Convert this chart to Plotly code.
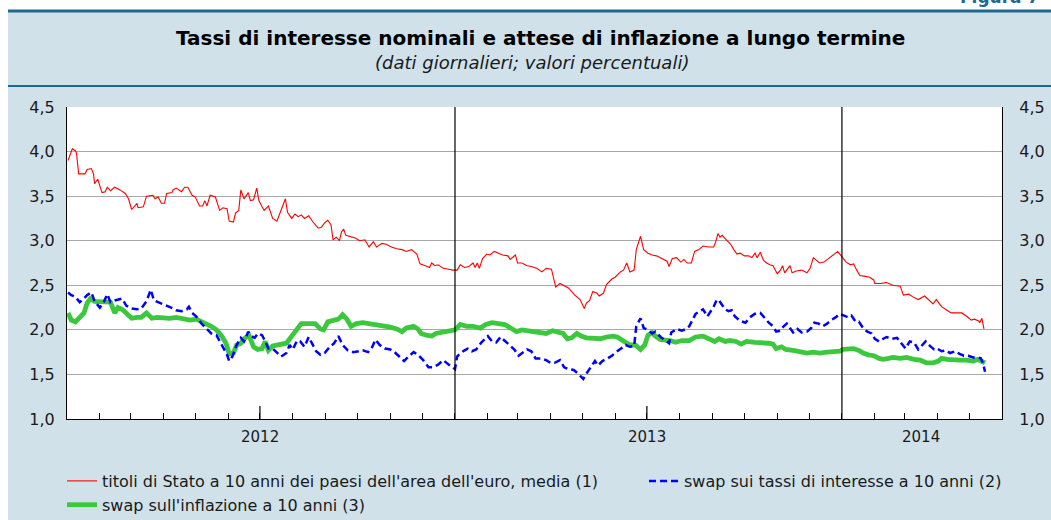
import plotly.graph_objects as go

# ---------------- data ----------------
bond_dates = ["2012-01-02","2012-01-06","2012-01-09","2012-01-10","2012-01-12","2012-01-18","2012-01-20","2012-01-24","2012-01-26","2012-01-27","2012-01-30","2012-02-03","2012-02-06","2012-02-08","2012-02-11","2012-02-15","2012-02-20","2012-02-25","2012-02-28","2012-03-02","2012-03-07","2012-03-08","2012-03-13","2012-03-16","2012-03-22","2012-03-24","2012-03-27","2012-03-30","2012-04-02","2012-04-04","2012-04-09","2012-04-10","2012-04-13","2012-04-18","2012-04-21","2012-04-24","2012-04-28","2012-05-01","2012-05-05","2012-05-08","2012-05-10","2012-05-12","2012-05-15","2012-05-20","2012-05-24","2012-05-27","2012-05-31","2012-06-02","2012-06-06","2012-06-08","2012-06-11","2012-06-13","2012-06-16","2012-06-20","2012-06-22","2012-06-25","2012-06-28","2012-06-30","2012-07-03","2012-07-05","2012-07-09","2012-07-13","2012-07-17","2012-07-21","2012-07-25","2012-07-27","2012-07-31","2012-08-03","2012-08-06","2012-08-09","2012-08-12","2012-08-16","2012-08-20","2012-08-25","2012-08-28","2012-08-31","2012-09-03","2012-09-06","2012-09-08","2012-09-11","2012-09-14","2012-09-16","2012-09-18","2012-09-20","2012-09-24","2012-09-29","2012-10-03","2012-10-08","2012-10-12","2012-10-16","2012-10-19","2012-10-24","2012-10-28","2012-11-02","2012-11-07","2012-11-12","2012-11-16","2012-11-21","2012-11-26","2012-11-29","2012-12-04","2012-12-08","2012-12-10","2012-12-13","2012-12-16","2012-12-21","2012-12-26","2012-12-30",
"2013-01-03","2013-01-06","2013-01-10","2013-01-14","2013-01-18","2013-01-20","2013-01-22","2013-01-24","2013-01-27","2013-01-31","2013-02-03","2013-02-07","2013-02-11","2013-02-15","2013-02-20","2013-02-22","2013-02-27","2013-03-01","2013-03-05","2013-03-10","2013-03-14","2013-03-19","2013-03-24","2013-03-28","2013-04-02","2013-04-04","2013-04-06","2013-04-10","2013-04-13","2013-04-18","2013-04-24","2013-04-29","2013-05-03","2013-05-05","2013-05-08","2013-05-11","2013-05-15","2013-05-17","2013-05-21","2013-05-24","2013-05-29","2013-06-01","2013-06-06","2013-06-09","2013-06-12","2013-06-15","2013-06-19","2013-06-21","2013-06-25","2013-06-28","2013-07-02","2013-07-06","2013-07-10","2013-07-15","2013-07-20","2013-07-22","2013-07-25","2013-07-29","2013-08-02","2013-08-05","2013-08-08","2013-08-12","2013-08-15","2013-08-19","2013-08-23","2013-08-28","2013-09-02","2013-09-04","2013-09-06","2013-09-08","2013-09-10","2013-09-14","2013-09-18","2013-09-21","2013-09-24","2013-09-27","2013-10-01","2013-10-05","2013-10-08","2013-10-11","2013-10-13","2013-10-16","2013-10-19","2013-10-22","2013-10-25","2013-10-28","2013-11-01","2013-11-04","2013-11-06","2013-11-08","2013-11-13","2013-11-15","2013-11-19","2013-11-24","2013-11-29","2013-12-02","2013-12-05","2013-12-08","2013-12-11","2013-12-15","2013-12-19","2013-12-23","2013-12-28","2013-12-30",
"2014-01-02","2014-01-05","2014-01-09","2014-01-12","2014-01-15","2014-01-18","2014-01-23","2014-01-27","2014-01-31","2014-02-01","2014-02-06","2014-02-12","2014-02-18","2014-02-25","2014-02-28","2014-03-05","2014-03-09","2014-03-14","2014-03-20","2014-03-25","2014-03-28","2014-03-31","2014-04-05","2014-04-10","2014-04-14","2014-04-19","2014-04-24","2014-04-29","2014-05-03","2014-05-06","2014-05-10","2014-05-11","2014-05-13","2014-05-15"]
bond_values = [3.90,4.03,4.01,3.98,3.75,3.75,3.80,3.81,3.75,3.64,3.69,3.54,3.55,3.60,3.56,3.60,3.57,3.53,3.47,3.35,3.42,3.37,3.38,3.50,3.51,3.47,3.49,3.42,3.42,3.53,3.54,3.57,3.59,3.55,3.60,3.60,3.51,3.49,3.39,3.39,3.45,3.39,3.51,3.49,3.34,3.37,3.36,3.22,3.21,3.31,3.34,3.57,3.47,3.54,3.45,3.46,3.59,3.45,3.38,3.34,3.39,3.25,3.22,3.34,3.47,3.32,3.25,3.30,3.27,3.29,3.25,3.28,3.21,3.14,3.15,3.20,3.23,3.18,3.01,3.04,3.00,3.10,3.13,3.06,3.05,3.03,3.00,3.01,2.93,2.99,2.93,2.97,2.96,2.93,2.91,2.90,2.88,2.90,2.85,2.74,2.72,2.70,2.75,2.72,2.73,2.69,2.68,2.67,
2.67,2.73,2.70,2.71,2.75,2.70,2.75,2.69,2.80,2.85,2.84,2.88,2.86,2.84,2.83,2.79,2.84,2.75,2.75,2.72,2.71,2.69,2.65,2.69,2.68,2.56,2.48,2.52,2.50,2.47,2.39,2.34,2.24,2.30,2.33,2.43,2.41,2.38,2.41,2.51,2.57,2.59,2.65,2.67,2.75,2.65,2.67,2.90,3.05,2.90,2.86,2.84,2.83,2.80,2.77,2.71,2.80,2.81,2.76,2.79,2.75,2.75,2.88,2.90,2.94,2.93,2.93,2.99,3.08,3.04,3.06,3.01,2.96,2.90,2.85,2.86,2.83,2.83,2.81,2.86,2.81,2.87,2.78,2.75,2.73,2.72,2.63,2.67,2.72,2.64,2.72,2.64,2.66,2.67,2.64,2.69,2.81,2.78,2.75,2.76,2.80,2.83,2.88,2.85,
2.80,2.76,2.73,2.74,2.67,2.61,2.60,2.59,2.56,2.52,2.52,2.53,2.50,2.49,2.39,2.40,2.37,2.34,2.38,2.32,2.29,2.34,2.26,2.22,2.19,2.19,2.19,2.15,2.11,2.12,2.10,2.08,2.13,2.01]

swap_rate_dates = ["2012-01-02","2012-01-05","2012-01-09","2012-01-13","2012-01-16","2012-01-20","2012-01-24","2012-01-27","2012-02-01","2012-02-05","2012-02-08","2012-02-11","2012-02-15","2012-02-18","2012-02-22","2012-02-26","2012-03-02","2012-03-07","2012-03-11","2012-03-16","2012-03-20","2012-03-23","2012-03-27","2012-04-01","2012-04-05","2012-04-10","2012-04-13","2012-04-18","2012-04-23","2012-04-25","2012-04-28","2012-05-02","2012-05-07","2012-05-12","2012-05-16","2012-05-21","2012-05-24","2012-05-28","2012-05-31","2012-06-02","2012-06-05","2012-06-09","2012-06-13","2012-06-16","2012-06-20","2012-06-23","2012-06-26","2012-06-29","2012-07-03","2012-07-06","2012-07-09","2012-07-13","2012-07-17","2012-07-21","2012-07-26","2012-07-29","2012-08-01","2012-08-05","2012-08-08","2012-08-12","2012-08-16","2012-08-19","2012-08-23","2012-08-27","2012-08-31","2012-09-05","2012-09-09","2012-09-13","2012-09-17","2012-09-22","2012-09-27","2012-10-02","2012-10-06","2012-10-11","2012-10-15","2012-10-18","2012-10-22","2012-10-27","2012-11-01","2012-11-05","2012-11-10","2012-11-14","2012-11-18","2012-11-23","2012-11-27","2012-12-02","2012-12-07","2012-12-11","2012-12-16","2012-12-21","2012-12-26","2012-12-30",
"2013-01-01","2013-01-03","2013-01-06","2013-01-10","2013-01-13","2013-01-17","2013-01-21","2013-01-26","2013-01-30","2013-02-01","2013-02-05","2013-02-09","2013-02-13","2013-02-17","2013-02-22","2013-02-26","2013-03-02","2013-03-06","2013-03-10","2013-03-14","2013-03-18","2013-03-23","2013-03-28","2013-04-01","2013-04-05","2013-04-10","2013-04-14","2013-04-18","2013-04-23","2013-04-27","2013-05-02","2013-05-05","2013-05-09","2013-05-13","2013-05-16","2013-05-20","2013-05-25","2013-05-29","2013-06-02","2013-06-07","2013-06-11","2013-06-15","2013-06-19","2013-06-21","2013-06-25","2013-06-28","2013-07-02","2013-07-06","2013-07-09","2013-07-14","2013-07-19","2013-07-22","2013-07-24","2013-07-29","2013-08-03","2013-08-07","2013-08-10","2013-08-13","2013-08-16","2013-08-20","2013-08-23","2013-08-27","2013-08-30","2013-09-02","2013-09-05","2013-09-07","2013-09-10","2013-09-13","2013-09-16","2013-09-19","2013-09-22","2013-09-27","2013-10-02","2013-10-06","2013-10-11","2013-10-16","2013-10-19","2013-10-24","2013-10-28","2013-10-31","2013-11-04","2013-11-07","2013-11-10","2013-11-13","2013-11-16","2013-11-20","2013-11-24","2013-11-29","2013-12-03","2013-12-06","2013-12-10","2013-12-14","2013-12-18","2013-12-22","2013-12-26","2013-12-30",
"2014-01-03","2014-01-07","2014-01-10","2014-01-14","2014-01-17","2014-01-21","2014-01-25","2014-01-29","2014-02-01","2014-02-05","2014-02-09","2014-02-12","2014-02-17","2014-02-22","2014-02-26","2014-03-02","2014-03-06","2014-03-10","2014-03-14","2014-03-18","2014-03-21","2014-03-25","2014-03-29","2014-04-01","2014-04-05","2014-04-09","2014-04-13","2014-04-18","2014-04-22","2014-04-26","2014-04-30","2014-05-05","2014-05-09","2014-05-12","2014-05-14","2014-05-16"]
swap_rate_values = [2.42,2.39,2.37,2.31,2.34,2.39,2.42,2.32,2.25,2.32,2.40,2.31,2.33,2.34,2.35,2.27,2.24,2.23,2.24,2.32,2.45,2.33,2.31,2.29,2.27,2.24,2.22,2.21,2.23,2.26,2.19,2.15,2.07,2.01,1.96,1.94,1.87,1.79,1.72,1.65,1.70,1.83,1.91,1.87,1.98,1.93,1.91,1.96,1.94,1.87,1.79,1.79,1.75,1.70,1.74,1.83,1.78,1.88,1.87,1.81,1.92,1.85,1.76,1.72,1.74,1.81,1.85,1.93,1.83,1.77,1.75,1.76,1.77,1.75,1.81,1.89,1.83,1.79,1.78,1.75,1.69,1.65,1.70,1.75,1.72,1.66,1.58,1.58,1.61,1.66,1.61,1.57,
1.56,1.70,1.74,1.77,1.79,1.76,1.78,1.86,1.91,1.93,1.87,1.86,1.92,1.88,1.83,1.78,1.71,1.74,1.78,1.76,1.68,1.68,1.66,1.63,1.63,1.66,1.58,1.56,1.55,1.51,1.45,1.51,1.58,1.65,1.60,1.65,1.68,1.71,1.75,1.79,1.83,1.81,1.82,2.04,2.13,2.02,2.00,1.96,1.98,1.92,1.88,1.85,1.97,2.01,1.99,2.01,2.04,2.12,2.18,2.21,2.23,2.15,2.21,2.26,2.34,2.33,2.28,2.23,2.21,2.22,2.15,2.10,2.08,2.14,2.18,2.19,2.15,2.08,2.04,1.98,1.99,2.04,2.07,2.02,1.97,2.01,1.97,1.98,2.02,2.08,2.07,2.04,2.07,2.11,2.14,2.18,
2.16,2.14,2.16,2.09,2.09,2.02,1.98,1.96,1.90,1.87,1.90,1.92,1.90,1.91,1.85,1.79,1.87,1.86,1.78,1.83,1.87,1.82,1.78,1.79,1.76,1.77,1.74,1.76,1.73,1.71,1.71,1.69,1.69,1.68,1.63,1.53]

infl_swap_dates = ["2012-01-02","2012-01-05","2012-01-09","2012-01-13","2012-01-17","2012-01-20","2012-01-23","2012-01-27","2012-02-01","2012-02-06","2012-02-11","2012-02-15","2012-02-18","2012-02-22","2012-02-26","2012-03-02","2012-03-07","2012-03-11","2012-03-16","2012-03-21","2012-03-26","2012-04-01","2012-04-07","2012-04-13","2012-04-20","2012-04-26","2012-05-02","2012-05-07","2012-05-12","2012-05-16","2012-05-21","2012-05-26","2012-05-30","2012-06-02","2012-06-06","2012-06-09","2012-06-13","2012-06-17","2012-06-21","2012-06-25","2012-06-29","2012-07-03","2012-07-06","2012-07-09","2012-07-13","2012-07-17","2012-07-21","2012-07-26","2012-07-31","2012-08-05","2012-08-09","2012-08-16","2012-08-22","2012-08-27","2012-08-30","2012-09-03","2012-09-08","2012-09-13","2012-09-17","2012-09-21","2012-09-25","2012-09-30","2012-10-06","2012-10-13","2012-10-19","2012-10-25","2012-11-01","2012-11-07","2012-11-12","2012-11-16","2012-11-23","2012-11-27","2012-11-30","2012-12-05","2012-12-10","2012-12-14","2012-12-21","2012-12-27",
"2013-01-01","2013-01-06","2013-01-12","2013-01-18","2013-01-25","2013-01-30","2013-02-05","2013-02-11","2013-02-17","2013-02-24","2013-02-28","2013-03-05","2013-03-11","2013-03-17","2013-03-24","2013-03-28","2013-04-03","2013-04-08","2013-04-13","2013-04-17","2013-04-21","2013-04-26","2013-04-30","2013-05-05","2013-05-11","2013-05-18","2013-05-24","2013-05-30","2013-06-03","2013-06-07","2013-06-11","2013-06-15","2013-06-20","2013-06-25","2013-06-29","2013-07-02","2013-07-06","2013-07-09","2013-07-14","2013-07-19","2013-07-23","2013-07-28","2013-08-03","2013-08-10","2013-08-16","2013-08-23","2013-08-29","2013-09-03","2013-09-07","2013-09-13","2013-09-17","2013-09-23","2013-09-28","2013-10-03","2013-10-11","2013-10-17","2013-10-24","2013-10-28","2013-10-31","2013-11-05","2013-11-09","2013-11-16","2013-11-22","2013-11-29","2013-12-05","2013-12-11","2013-12-18","2013-12-24","2013-12-30",
"2014-01-02","2014-01-07","2014-01-12","2014-01-17","2014-01-21","2014-01-26","2014-01-31","2014-02-05","2014-02-09","2014-02-14","2014-02-18","2014-02-25","2014-03-03","2014-03-10","2014-03-16","2014-03-22","2014-03-28","2014-04-02","2014-04-05","2014-04-10","2014-04-16","2014-04-22","2014-04-28","2014-05-05","2014-05-09","2014-05-12","2014-05-16"]
infl_swap_values = [2.19,2.11,2.09,2.14,2.19,2.30,2.35,2.32,2.32,2.31,2.31,2.19,2.25,2.23,2.19,2.13,2.14,2.14,2.19,2.13,2.14,2.13,2.13,2.14,2.12,2.11,2.12,2.09,2.07,2.04,2.00,1.93,1.85,1.73,1.74,1.83,1.85,1.91,1.93,1.81,1.78,1.79,1.87,1.77,1.82,1.83,1.85,1.85,1.93,2.00,2.07,2.07,2.07,2.01,2.00,2.09,2.10,2.12,2.17,2.12,2.04,2.07,2.08,2.07,2.06,2.04,2.03,2.01,1.98,2.02,2.04,2.01,1.96,1.94,1.93,1.96,1.98,1.99,
2.00,2.06,2.04,2.04,2.02,2.06,2.08,2.07,2.06,2.01,1.98,2.00,1.99,1.97,1.96,1.96,1.99,1.97,1.96,1.90,1.91,1.96,1.93,1.91,1.90,1.90,1.92,1.93,1.92,1.89,1.85,1.83,1.83,1.78,1.83,1.94,1.97,1.93,1.89,1.89,1.88,1.86,1.88,1.88,1.92,1.93,1.90,1.87,1.90,1.87,1.88,1.87,1.84,1.87,1.86,1.86,1.85,1.84,1.79,1.81,1.78,1.77,1.76,1.74,1.75,1.74,1.75,1.75,1.76,
1.78,1.78,1.79,1.77,1.74,1.72,1.71,1.68,1.67,1.68,1.69,1.68,1.69,1.67,1.66,1.63,1.63,1.65,1.68,1.67,1.66,1.66,1.66,1.65,1.67,1.65,1.63]

series_names = [
    "titoli di Stato a 10 anni dei paesi dell'area dell'euro, media (1)",
    "swap sui tassi di interesse a 10 anni (2)",
    "swap sull'inflazione a 10 anni (3)",
]
x_range = ["2012-01-01", "2014-06-01"]
y_range = [1.0, 4.5]
y_ticks = [1.0, 1.5, 2.0, 2.5, 3.0, 3.5, 4.0, 4.5]
year_breaks = ["2013-01-01", "2014-01-01"]
year_label_dates = ["2012-07-01", "2013-07-01", "2014-03-17"]
year_labels = ["2012", "2013", "2014"]
midyear_ticks = ["2012-07-01", "2013-07-01"]

title_text = "Tassi di interesse nominali e attese di inflazione a lungo termine"
subtitle_text = "(dati giornalieri; valori percentuali)"
figure_tag = "Figura 7"

# ---------------- layout geometry ----------------
W, H = 1051, 520
L, R, T, B = 67, 1002, 107, 419
PANEL = "#D0E1EA"
TEAL = "#1D6A8E"
FONT = "DejaVu Sans, Liberation Sans, Arial, sans-serif"
TXT = "#1a1a1a"


def px(x):
    return (x - L) / (R - L)


def py(y):
    return (B - y) / (B - T)


fig = go.Figure()

fig.add_trace(go.Scatter(
    x=infl_swap_dates, y=infl_swap_values, name=series_names[2], mode="lines",
    line=dict(color="#3CC83C", width=4.8), legend="legend"))
fig.add_trace(go.Scatter(
    x=swap_rate_dates, y=swap_rate_values, name=series_names[1], mode="lines",
    line=dict(color="#0000FF", width=2.5, dash="7px,4px"), legend="legend2"))
fig.add_trace(go.Scatter(
    x=bond_dates, y=bond_values, name=series_names[0], mode="lines",
    line=dict(color="#FF0000", width=1.1), legend="legend"))
# carrier for the right-hand value axis (no visible marks)
fig.add_trace(go.Scatter(
    x=x_range, y=[None, None], yaxis="y2", mode="lines", showlegend=False,
    hoverinfo="skip"))

shapes = [
    dict(type="rect", xref="paper", yref="paper", x0=px(0), x1=px(8), y0=py(H), y1=py(0),
         fillcolor="white", line=dict(width=0), layer="below"),
    dict(type="rect", xref="paper", yref="paper", x0=px(0), x1=px(W), y0=py(10), y1=py(0),
         fillcolor="white", line=dict(width=0), layer="below"),
    dict(type="line", xref="paper", yref="paper", x0=px(8), x1=px(W), y0=py(11), y1=py(11),
         line=dict(color=TEAL, width=3)),
    dict(type="line", xref="paper", yref="paper", x0=px(8), x1=px(W), y0=py(86), y1=py(86),
         line=dict(color=TEAL, width=2)),
]
for d in year_breaks:
    shapes.append(dict(type="line", xref="x", yref="paper", x0=d, x1=d, y0=0, y1=1,
                       line=dict(color="black", width=1.2)))
for d in midyear_ticks:
    shapes.append(dict(type="line", xref="x", yref="paper", x0=d, x1=d, y0=0, y1=13 / (B - T),
                       line=dict(color="black", width=1.2)))

annotations = [
    dict(text="<b>" + title_text + "</b>", xref="paper", yref="paper", x=px(540), y=py(38),
         xanchor="center", yanchor="middle", showarrow=False,
         font=dict(family=FONT, size=20, color="black")),
    dict(text="<i>" + subtitle_text + "</i>", xref="paper", yref="paper", x=px(532), y=py(62),
         xanchor="center", yanchor="middle", showarrow=False,
         font=dict(family=FONT, size=18, color=TXT)),
    dict(text="<b>" + figure_tag + "</b>", xref="paper", yref="paper", x=px(958), y=py(9),
         xanchor="left", yanchor="bottom", showarrow=False,
         font=dict(family=FONT, size=17, color=TEAL)),
]
for d, lab in zip(year_label_dates, year_labels):
    annotations.append(dict(text=lab, xref="x", yref="paper", x=d, y=py(437),
                            xanchor="center", yanchor="middle", showarrow=False,
                            font=dict(family=FONT, size=15, color=TXT)))

axis_font = dict(family=FONT, size=16, color=TXT)
legend_font = dict(family=FONT, size=16, color=TXT)

fig.update_layout(
    width=W, height=H,
    margin=dict(l=L, r=W - R, t=T, b=H - B, pad=0, autoexpand=False),
    paper_bgcolor=PANEL, plot_bgcolor="white",
    separators=",.",
    shapes=shapes, annotations=annotations,
    xaxis=dict(range=x_range, type="date", dtick="M1", tick0="2012-01-01",
               ticks="inside", ticklen=6, tickcolor="black", tickwidth=1.2,
               showticklabels=False, showgrid=False, showline=True, linecolor="black",
               linewidth=1.2, zeroline=False),
    yaxis=dict(range=y_range, tickmode="array", tickvals=y_ticks, tickformat=".1f",
               showgrid=True, gridcolor="#A8A8A8", gridwidth=1, ticks="",
               showline=True, linecolor="black", linewidth=1.2, zeroline=False,
               tickfont=axis_font, ticklabelstandoff=8),
    yaxis2=dict(range=y_range, overlaying="y", side="right", tickmode="array",
                tickvals=y_ticks, tickformat=".1f", showgrid=False, ticks="",
                showline=True, linecolor="black", linewidth=1.2, zeroline=False,
                tickfont=axis_font, ticklabelstandoff=13),
    legend=dict(xref="container", yref="container", x=62 / W, y=1 - 464 / H,
                xanchor="left", yanchor="top", orientation="v",
                traceorder="reversed", bgcolor="rgba(0,0,0,0)",
                font=legend_font, itemwidth=30, tracegroupgap=0),
    legend2=dict(xref="container", yref="container", x=644 / W, y=1 - 464 / H,
                 xanchor="left", yanchor="top", orientation="v",
                 bgcolor="rgba(0,0,0,0)", font=legend_font, itemwidth=30),
    showlegend=True,
)

fig.write_html("out.html", config={"displayModeBar": False},
               post_script="document.body.style.margin='0px';document.body.style.overflow='hidden';")
